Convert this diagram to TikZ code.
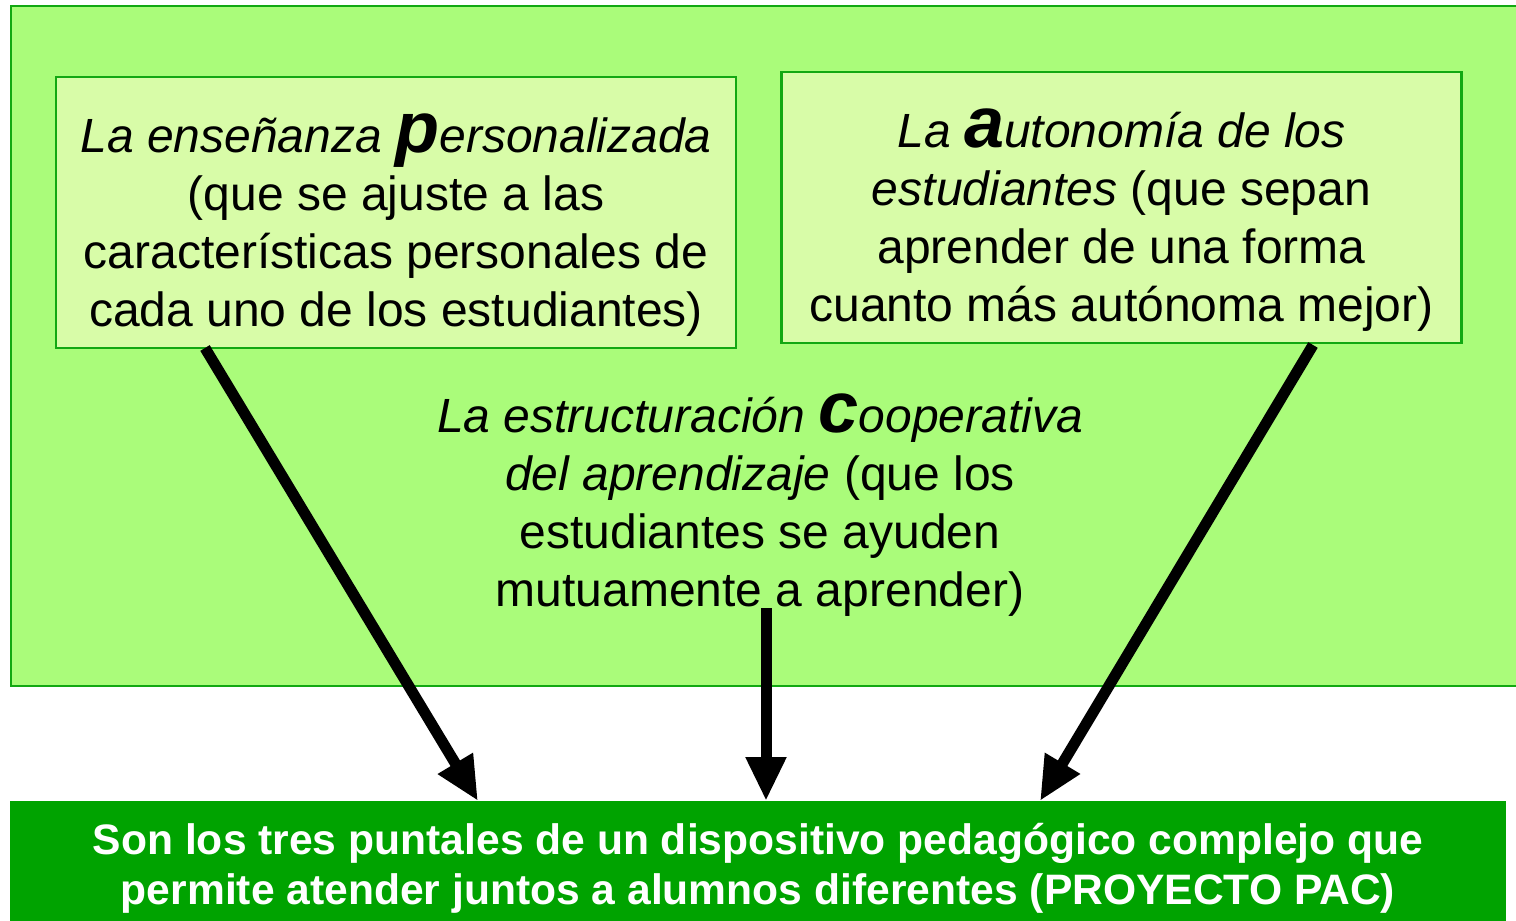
\documentclass[tikz,border=0pt]{standalone}
\usepackage{fontspec}
\setmainfont{Liberation Sans}
\usetikzlibrary{arrows.meta}
\definecolor{outerfill}{HTML}{AAFC7A}
\definecolor{boxfill}{HTML}{D8FCA8}
\definecolor{edgegreen}{HTML}{12A812}
\definecolor{darkgreen}{HTML}{00A300}
\newcommand{\bigletter}[1]{{\fontsize{36}{29}\selectfont\bfseries\itshape #1}}
\tikzset{
  x=0.5pt, y=-0.5pt,
  pillar/.style={draw=edgegreen, line width=1.2pt, fill=boxfill, inner sep=0pt, minimum width=340pt, minimum height=135.5pt},
  bodytext/.style={align=center, inner sep=0pt, font=\fontsize{24}{29}\selectfont},
  arrowline/.style={line width=5.5pt, -{Triangle[length=22pt, width=19pt]}},
}
\begin{document}
\begin{tikzpicture}
\useasboundingbox (0,0) rectangle (1516,921);
% outer area
\node[draw=edgegreen, line width=1.2pt, fill=outerfill, inner sep=0pt, minimum width=755pt, minimum height=340pt, anchor=north west] (outer) at (10,5) {};
% left box
\node[pillar] (lbox) at (396,212.5) {};
\node[bodytext] (ltext) at (396,225) {\itshape La enseñanza \bigletter{p}ersonalizada\\(que se ajuste a las\\características personales de\\cada uno de los estudiantes)};
% right box
\node[pillar] (rbox) at (1121.5,207.5) {};
\node[bodytext] (rtext) at (1121.5,220) {\itshape La \bigletter{a}utonomía de los\\\itshape estudiantes \upshape(que sepan\\aprender de una forma\\cuanto más autónoma mejor)};
% center text
\node[bodytext] (ctext) at (760,505) {\itshape La estructuración \bigletter{c}ooperativa\\\itshape del aprendizaje \upshape(que los\\estudiantes se ayuden\\mutuamente a aprender)};
% bottom box
\node[fill=darkgreen, inner sep=0pt, minimum width=748pt, minimum height=62pt, anchor=north west] (bottom) at (10,801) {};
\node[align=center, inner sep=0pt, text=white, font=\fontsize{21.3}{25}\selectfont\bfseries] (btext) at (758,868) {Son los tres puntales de un dispositivo pedagógico complejo que\\permite atender juntos a alumnos diferentes (PROYECTO PAC)};
% connectors
\coordinate (lstart) at (205,348);
\coordinate (lend) at (478,801);
\coordinate (cstart) at (766,608);
\coordinate (cend) at (766,801);
\coordinate (rstart) at (1313,345);
\coordinate (rend) at (1040,801);
\draw[arrowline] (lstart) -- (lend);
\draw[arrowline] (cstart) -- (cend);
\draw[arrowline] (rstart) -- (rend);
\end{tikzpicture}
\end{document}
